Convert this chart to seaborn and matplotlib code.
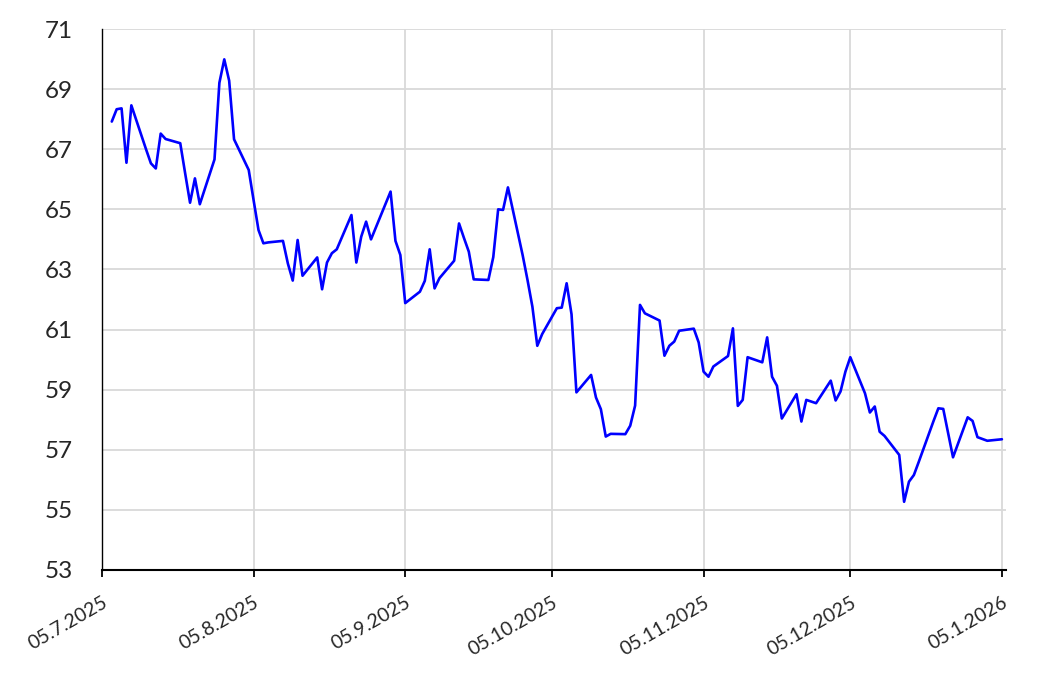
import pandas as pd
import numpy as np
import matplotlib
matplotlib.use("Agg")
import matplotlib.pyplot as plt
import seaborn as sns

# daily closes (trading days only)
dates = [
    "2025-07-07", "2025-07-08", "2025-07-09", "2025-07-10", "2025-07-11",
    "2025-07-14", "2025-07-15", "2025-07-16", "2025-07-17", "2025-07-18",
    "2025-07-21", "2025-07-22", "2025-07-23", "2025-07-24", "2025-07-25",
    "2025-07-28", "2025-07-29", "2025-07-30", "2025-07-31", "2025-08-01",
    "2025-08-04", "2025-08-05", "2025-08-06", "2025-08-07", "2025-08-08",
    "2025-08-11", "2025-08-12", "2025-08-13", "2025-08-14", "2025-08-15",
    "2025-08-18", "2025-08-19", "2025-08-20", "2025-08-21", "2025-08-22",
    "2025-08-25", "2025-08-26", "2025-08-27", "2025-08-28", "2025-08-29",
    "2025-09-02", "2025-09-03", "2025-09-04", "2025-09-05",
    "2025-09-08", "2025-09-09", "2025-09-10", "2025-09-11", "2025-09-12",
    "2025-09-15", "2025-09-16", "2025-09-17", "2025-09-18", "2025-09-19",
    "2025-09-22", "2025-09-23", "2025-09-24", "2025-09-25", "2025-09-26",
    "2025-09-29", "2025-09-30", "2025-10-01", "2025-10-02", "2025-10-03",
    "2025-10-06", "2025-10-07", "2025-10-08", "2025-10-09", "2025-10-10",
    "2025-10-13", "2025-10-14", "2025-10-15", "2025-10-16", "2025-10-17",
    "2025-10-20", "2025-10-21", "2025-10-22", "2025-10-23", "2025-10-24",
    "2025-10-27", "2025-10-28", "2025-10-29", "2025-10-30", "2025-10-31",
    "2025-11-03", "2025-11-04", "2025-11-05", "2025-11-06", "2025-11-07",
    "2025-11-10", "2025-11-11", "2025-11-12", "2025-11-13", "2025-11-14",
    "2025-11-17", "2025-11-18", "2025-11-19", "2025-11-20", "2025-11-21",
    "2025-11-24", "2025-11-25", "2025-11-26", "2025-11-28",
    "2025-12-01", "2025-12-02", "2025-12-03", "2025-12-04", "2025-12-05",
    "2025-12-08", "2025-12-09", "2025-12-10", "2025-12-11", "2025-12-12",
    "2025-12-15", "2025-12-16", "2025-12-17", "2025-12-18", "2025-12-19",
    "2025-12-22", "2025-12-23", "2025-12-24", "2025-12-26",
    "2025-12-29", "2025-12-30", "2025-12-31", "2026-01-02", "2026-01-05",
]
prices = [
    67.92, 68.33, 68.36, 66.55, 68.46,
    67.00, 66.53, 66.36, 67.52, 67.34,
    67.20, 66.20, 65.22, 66.03, 65.17,
    66.66, 69.21, 69.99, 69.28, 67.33,
    66.31, 65.30, 64.31, 63.87, 63.90,
    63.95, 63.20, 62.63, 63.98, 62.79,
    63.40, 62.34, 63.23, 63.54, 63.67,
    64.81, 63.23, 64.09, 64.59, 64.00,
    65.59, 63.95, 63.48, 61.88,
    62.26, 62.62, 63.67, 62.37, 62.71,
    63.29, 64.53, 64.05, 63.59, 62.67,
    62.65, 63.41, 65.00, 64.98, 65.73,
    63.48, 62.65, 61.76, 60.46, 60.85,
    61.71, 61.73, 62.54, 61.51, 58.91,
    59.49, 58.74, 58.35, 57.44, 57.53,
    57.52, 57.80, 58.47, 61.82, 61.54,
    61.30, 60.13, 60.46, 60.60, 60.96,
    61.03, 60.57, 59.60, 59.43, 59.77,
    60.12, 61.04, 58.46, 58.66, 60.08,
    59.91, 60.74, 59.43, 59.13, 58.04,
    58.85, 57.94, 58.66, 58.55,
    59.30, 58.64, 58.94, 59.60, 60.08,
    58.88, 58.24, 58.44, 57.60, 57.46,
    56.83, 55.27, 55.94, 56.16, 56.60,
    57.95, 58.38, 58.36, 56.75,
    58.08, 57.96, 57.42, 57.30, 57.35,
]
tick_dates = ["2025-07-05", "2025-08-05", "2025-09-05", "2025-10-05",
              "2025-11-05", "2025-12-05", "2026-01-05"]
y_ticks = [53, 55, 57, 59, 61, 63, 65, 67, 69, 71]

df = pd.DataFrame({"date": pd.to_datetime(dates), "price": prices})
ticks = pd.to_datetime(tick_dates)

sns.set_style("white")
plt.rcParams["font.family"] = ["Lato", "DejaVu Sans"]

fig = plt.figure(figsize=(10.52, 6.76), dpi=100)
ax = fig.add_axes([102 / 1052, 1 - 570 / 676, 904 / 1052, 541 / 676])

sns.lineplot(data=df, x="date", y="price", color="#0000ff", linewidth=1.9, ax=ax)

ax.set_xlim(ticks[0], ticks[-1] + pd.Timedelta(hours=20))
ax.set_ylim(53, 71)
ax.set_yticks(y_ticks)
ax.set_xticks(ticks)
ax.set_xticklabels([f"{d.day:02d}.{d.month}.{d.year}" for d in ticks])

ax.grid(True, color="#d9d9d9", linewidth=1.3)
ax.set_axisbelow(True)
for s in ["top", "right"]:
    ax.spines[s].set_visible(False)
ax.spines["left"].set_color("black")
ax.spines["left"].set_linewidth(1.0)
ax.spines["bottom"].set_color("black")
ax.spines["bottom"].set_linewidth(1.5)

ax.tick_params(axis="y", length=0, pad=21, labelsize=17.5)
ax.tick_params(axis="x", direction="out", length=5, width=1.3, color="black",
               bottom=True, pad=12, labelsize=14)
for lbl in ax.get_xticklabels():
    lbl.set_rotation(30)
    lbl.set_ha("right")
    lbl.set_va("top")
    lbl.set_rotation_mode("anchor")

ax.set_xlabel("")
ax.set_ylabel("")

fig.savefig("out.png", dpi=100)
